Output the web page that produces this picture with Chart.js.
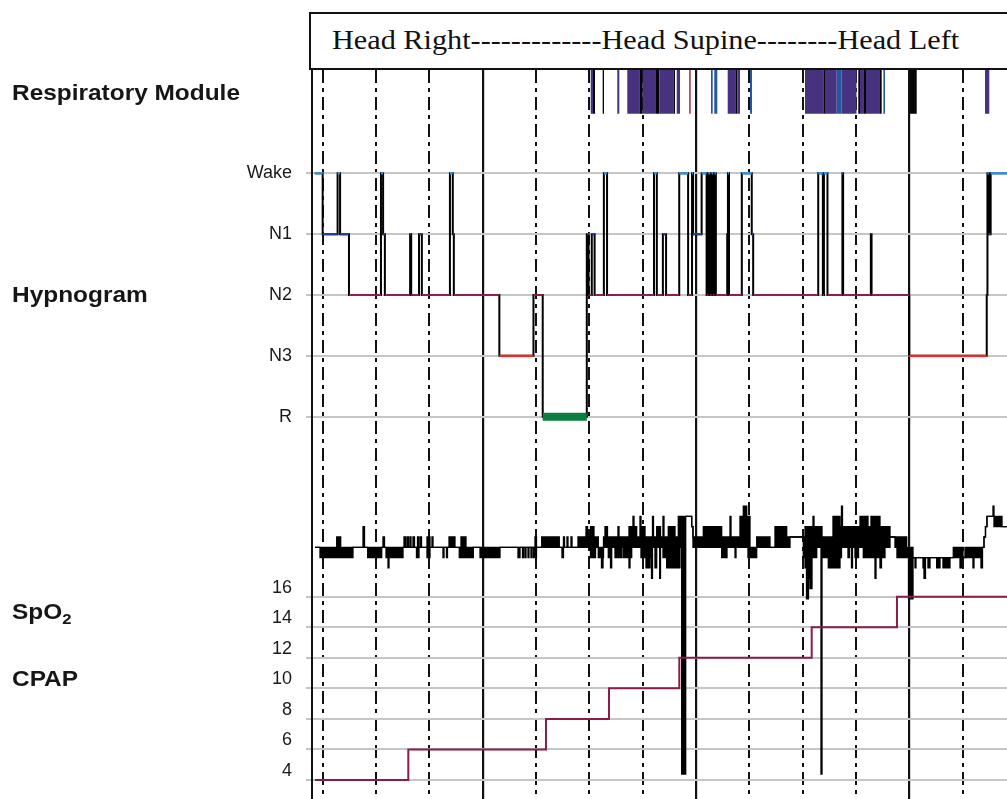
<!DOCTYPE html>
<html><head><meta charset="utf-8">
<script src="https://cdn.jsdelivr.net/npm/chart.js@4.4.1/dist/chart.umd.min.js"></script>
<style>
html,body{margin:0;padding:0;background:#fff;overflow:hidden;}
#wrap{position:relative;width:1007px;height:799px;overflow:hidden;}
#c{position:absolute;left:0;top:0;}
.lab{position:absolute;left:12px;font:bold 22px 'Liberation Sans',Arial,sans-serif;color:#161616;line-height:22px;white-space:nowrap;transform:scaleX(1.11);transform-origin:0 0;}
.lab sub{font-size:15px;vertical-align:-5px;line-height:0;}
#hdr{position:absolute;left:309px;top:12px;width:760px;height:58px;border:2px solid #111;box-sizing:border-box;background:#fff;}
#hdr span{position:absolute;left:21px;top:12px;font:28px 'Liberation Serif','Times New Roman',serif;line-height:28px;color:#111;white-space:nowrap;transform:scaleX(1.08);transform-origin:0 0;}
</style></head>
<body><div id="wrap">
<canvas id="c" width="1007" height="799"></canvas>
<div id="hdr"><span>Head Right-------------Head Supine--------Head Left</span></div>
<div class="lab" style="top:82px">Respiratory Module</div>
<div class="lab" style="top:284px">Hypnogram</div>
<div class="lab" style="top:601px">SpO<sub>2</sub></div>
<div class="lab" style="top:668px">CPAP</div>
</div>
<script>
// ---- time axis (minutes from recording start) ----
const quarterTicks = [3, 18, 33, 63, 78, 93, 123, 138, 153, 183];
const hourTicks = [48, 108, 168];
const timeEnd = 195.5;

// ---- respiratory events [start, end] in minutes ----
const obstructiveEvents = [[78.40,79.04],[85.88,86.44],[88.69,92.07],[93.02,96.76],[97.69,101.63],[102.59,103.52],[116.93,119.07],[119.63,120.39],[138.68,143.83],[144.30,147.59],[149.0,153.16],[154.15,155.27],[155.84,159.77],[189.31,190.52]];
const centralEvents = [[79.04,79.61],[81.77,82.14],[92.07,93.02],[96.76,97.69],[101.63,102.11],[119.07,119.63],[143.83,144.30],[153.67,154.15],[155.27,155.84],[159.77,160.25],[168.21,170.10]];
const mixedEvents = [[112.24,112.71],[113.16,114.01],[123.21,123.77],[147.59,149.0],[160.73,161.18]];
const hypopneaEvents = [[106.12,106.50]];

// ---- hypnogram: stage starts (4=Wake,3=N1,2=N2,1=N3,0=R) ----
const stageLabels = ['R', 'N3', 'N2', 'N1', 'Wake'];
const hypnoTime = [0.8,3.0,7.2,7.9,10.4,19.4,20.0,20.5,27.6,27.9,30.1,30.9,38.8,39.6,39.9,52.7,62.3,64.9,77.3,77.8,78.7,79.5,82.1,83.0,96.2,97.0,98.7,99.6,103.3,105.8,106.9,107.2,109.6,111.0,111.5,112.0,112.4,112.8,113.2,113.6,116.8,117.0,117.3,120.9,123.7,124.1,142.4,143.7,144.0,145.0,149.2,149.4,157.2,157.4,168.0,189.8,190.0,190.4,190.9,195.5];
const hypnoStage = [4,3,4,3,2,4,3,2,3,2,3,2,4,3,2,1,2,0,3,2,3,2,4,2,4,2,3,2,4,2,4,3,4,2,4,2,4,2,4,2,3,4,2,4,3,2,4,2,4,2,4,2,3,2,1,2,4,3,4,4];

// ---- SpO2 (%) upper / lower envelope, stepped ----
const spo2Time = [0.84,2.25,6.95,8.07,11.53,14.35,14.77,15.67,19.61,19.97,20.39,20.82,21.38,21.66,25.60,25.88,26.44,26.86,27.14,27.57,27.85,28.41,28.83,29.39,29.68,30.10,30.52,30.80,32.35,33.19,33.75,34.04,36.85,37.13,37.83,38.11,38.54,40.22,41.43,41.91,43.32,45.37,47.26,52.88,57.95,58.51,59.21,59.49,59.91,60.20,60.76,61.04,61.60,61.88,62.31,62.73,63.15,64.61,69.56,70.32,70.74,71.03,71.73,72.01,72.85,73.14,74.82,77.07,77.50,78.34,79.32,79.75,80.53,81.43,81.86,82.00,82.42,83.12,83.35,83.97,84.30,85.23,86.07,86.36,87.12,87.57,89.17,89.45,89.93,90.29,90.58,91.33,92.26,92.54,93.67,93.95,95.08,95.50,95.78,96.06,96.48,96.96,97.80,98.03,98.73,99.01,99.77,100.22,102.11,103.04,103.51,103.99,105.12,106.81,107.17,110.07,115.24,116.74,117.58,117.86,118.99,119.27,120.39,121.32,122.28,122.64,123.21,125.09,128.83,130.24,133.53,134.46,138.20,138.68,139.10,139.66,140.08,140.65,140.93,141.21,141.97,143.18,143.46,145.23,146.55,148.52,148.94,149.22,150.77,151.19,151.76,152.04,152.74,153.73,154.15,155.08,156.40,157.24,158.37,158.65,159.77,160.19,161.18,162.59,163.99,164.55,167.28,167.79,169.06,169.62,169.90,171.87,172.15,172.57,173.27,173.84,175.72,176.65,177.49,179.46,180.39,182.28,182.70,183.12,183.68,185.93,186.21,188.18,188.61,189.03,189.45,189.87,191.56,191.84,192.60,194.09,195.50];
const spo2High = [94,94,95,94,94,96,94,94,94,95,94,94,94,94,94,95,94,95,94,95,94,95,94,94,95,94,95,94,95,94,95,94,94,94,94,94,95,94,94,95,94,94,94,94,94,94,94,94,94,94,94,94,94,94,94,95,94,95,94,94,95,94,95,94,95,94,95,96,95,96,95,95,94,94,94,95,96,95,95,95,95,95,96,95,95,95,96,96,96,97,96,95,97,96,95,95,95,95,97,95,95,96,96,95,97,95,95,96,95,97,97,97,97,96,95,96,95,95,97,95,95,95,97,98,97,97,94,95,94,96,95,95,95,96,96,96,96,96,97,96,96,96,95,95,97,96,98,96,96,96,96,96,96,96,97,97,96,97,97,97,96,96,96,95,95,95,94,94,93,93,93,93,93,93,93,93,93,93,93,93,94,94,94,93,94,94,94,94,94,95,96,97,98,97,97,96,96];
const spo2Low = [94,93,93,93,94,94,94,93,94,94,94,93,92,93,94,94,94,94,94,94,94,94,94,93,93,94,94,94,93,94,94,94,93,94,93,94,94,94,93,93,93,94,93,94,93,94,93,94,93,94,93,94,93,94,93,93,94,94,94,93,94,94,94,94,94,94,94,94,94,93,93,94,93,92,93,94,94,94,93,92,94,93,93,93,94,93,92,93,94,94,94,94,94,93,94,92,93,91,94,94,92,94,91,94,93,93,92,92,92,92,94,72,97,96,94,94,93,94,94,94,93,94,94,94,94,93,93,94,94,94,94,95,93,92,89,91,90,93,93,93,94,72,93,92,92,93,94,94,93,94,92,94,93,94,94,93,93,93,91,93,92,93,94,95,94,93,93,89,93,92,93,92,91,93,92,93,92,93,92,93,93,92,93,93,93,92,93,92,94,95,96,97,97,96,96,96,96];

// ---- CPAP (cmH2O) level starts ----
const cpapTime = [0.84, 27.09, 65.82, 83.54, 103.32, 140.56, 164.55, 195.5];
const cpapLevel = [4, 6, 8, 10, 12, 14, 16, 16];
const cpapTicks = [4, 6, 8, 10, 12, 14, 16];

// ---- colours ----
const stageColors = {4:'#3b8ed5', 3:'#1d428f', 2:'#8c1f4f', 1:'#ff2020', 0:'#0a7e3e'};
const stageWidths = {4:2.4, 3:2.2, 2:2.2, 1:2.2, 0:8};

// ---- build datasets ----
const datasets = [];
function eventSeries(ev){
  const d=[{x:0,y:0}];
  ev.forEach(([s,e])=>{d.push({x:s,y:1});d.push({x:e,y:0});});
  d.push({x:timeEnd,y:0});
  return d;
}
[[obstructiveEvents,'#46327f'],[centralEvents,'#050505'],[mixedEvents,'#2457a3'],[hypopneaEvents,'#a3121f']].forEach(([ev,col])=>{
  datasets.push({type:'line',data:eventSeries(ev),yAxisID:'yR',stepped:true,fill:'origin',backgroundColor:col,borderColor:'rgba(0,0,0,0)',borderWidth:0,pointRadius:0,order:3});
});
// hypnogram black step line
datasets.push({type:'line',data:hypnoTime.map((t,i)=>({x:t,y:hypnoStage[i]})),yAxisID:'yH',stepped:true,borderColor:'#000',borderWidth:2,pointRadius:0,fill:false,order:5,clip:false});
// coloured stage plateaus
[4,3,2,1,0].forEach(s=>{
  const d=[];
  for(let i=0;i<hypnoTime.length-1;i++){
    if(hypnoStage[i]===s){d.push({x:hypnoTime[i],y:s},{x:hypnoTime[i+1],y:s},{x:hypnoTime[i+1],y:null});}
  }
  datasets.push({type:'line',data:d,yAxisID:'yH',borderColor:stageColors[s],borderWidth:stageWidths[s],pointRadius:0,fill:false,spanGaps:false,order:1,clip:false});
});
// SpO2 envelope
datasets.push({type:'line',data:spo2Time.map((t,i)=>({x:t,y:spo2High[i]})),yAxisID:'yS',stepped:true,borderColor:'#000',borderWidth:1.3,pointRadius:0,fill:'+1',backgroundColor:'#000',order:2,clip:false});
datasets.push({type:'line',data:spo2Time.map((t,i)=>({x:t,y:spo2Low[i]})),yAxisID:'yS',stepped:true,borderColor:'#000',borderWidth:1.3,pointRadius:0,fill:false,order:2,clip:false});
// CPAP
datasets.push({type:'line',data:cpapTime.map((t,i)=>({x:t,y:cpapLevel[i]})),yAxisID:'yC',stepped:true,borderColor:'#8a1c4a',borderWidth:2,pointRadius:0,fill:false,order:1,clip:false});

const FONT = "'Liberation Sans', Arial, sans-serif";
Chart.defaults.font.family = FONT;
const noPad = s => { s.paddingTop = 0; s.paddingBottom = 0; s.paddingLeft = 0; s.paddingRight = 0; };
const fixW = s => { s.width = 312; noPad(s); };
const fixH = s => { s.height = 0; noPad(s); };
const hiddenY = (extra) => Object.assign({
  type:'linear', position:'left', stack:'main',
  ticks:{display:false}, grid:{drawOnChartArea:false, drawTicks:false},
  border:{display:true, color:'#111', width:2}, afterFit:fixW
}, extra);

new Chart(document.getElementById('c'), {
  type:'line',
  data:{datasets},
  options:{
    responsive:false, animation:false, devicePixelRatio:1,
    layout:{padding:{top:70,left:0,right:0,bottom:0}},
    plugins:{legend:{display:false}, tooltip:{enabled:false}},
    scales:{
      x:{type:'linear', position:'bottom', min:0, max:timeEnd,
         afterBuildTicks:s=>{s.ticks=quarterTicks.map(v=>({value:v}));},
         ticks:{display:false}, grid:{color:'#111', lineWidth:2, drawTicks:false},
         border:{display:false, dash:[13,5,4,5]}, afterFit:fixH},
      xh:{type:'linear', position:'bottom', min:0, max:timeEnd,
         afterBuildTicks:s=>{s.ticks=hourTicks.map(v=>({value:v}));},
         ticks:{display:false}, grid:{color:'#111', lineWidth:2.2, drawTicks:false},
         border:{display:false}, afterFit:fixH},
      yR: hiddenY({weight:4, stackWeight:72, min:-0.65, max:1.0}),
      yH:{type:'linear', position:'left', stack:'main', weight:3, stackWeight:324, min:-0.81, max:4.514,
         afterBuildTicks:s=>{s.ticks=[0,1,2,3,4].map(v=>({value:v}));},
         ticks:{autoSkip:false, padding:14, color:'#1a1a1a', font:{size:18, family:FONT}, callback:v=>stageLabels[v]},
         grid:{color:'#c6c6c6', lineWidth:2, tickLength:6, tickColor:'#b0b0b0', tickWidth:1.5},
         border:{display:true, color:'#111', width:2}, afterFit:fixW},
      yS: hiddenY({weight:2, stackWeight:114, min:90.83, max:101.89}),
      yC:{type:'linear', position:'left', stack:'main', weight:1, stackWeight:219, min:2.756, max:17.09,
         afterBuildTicks:s=>{s.ticks=cpapTicks.map(v=>({value:v}));},
         ticks:{autoSkip:false, padding:14, labelOffset:-9, color:'#1a1a1a', font:{size:18, family:FONT}},
         grid:{color:'#c6c6c6', lineWidth:2, tickLength:6, tickColor:'#b0b0b0', tickWidth:1.5},
         border:{display:true, color:'#111', width:2}, afterFit:fixW}
    }
  }
});
</script>
</body></html>
